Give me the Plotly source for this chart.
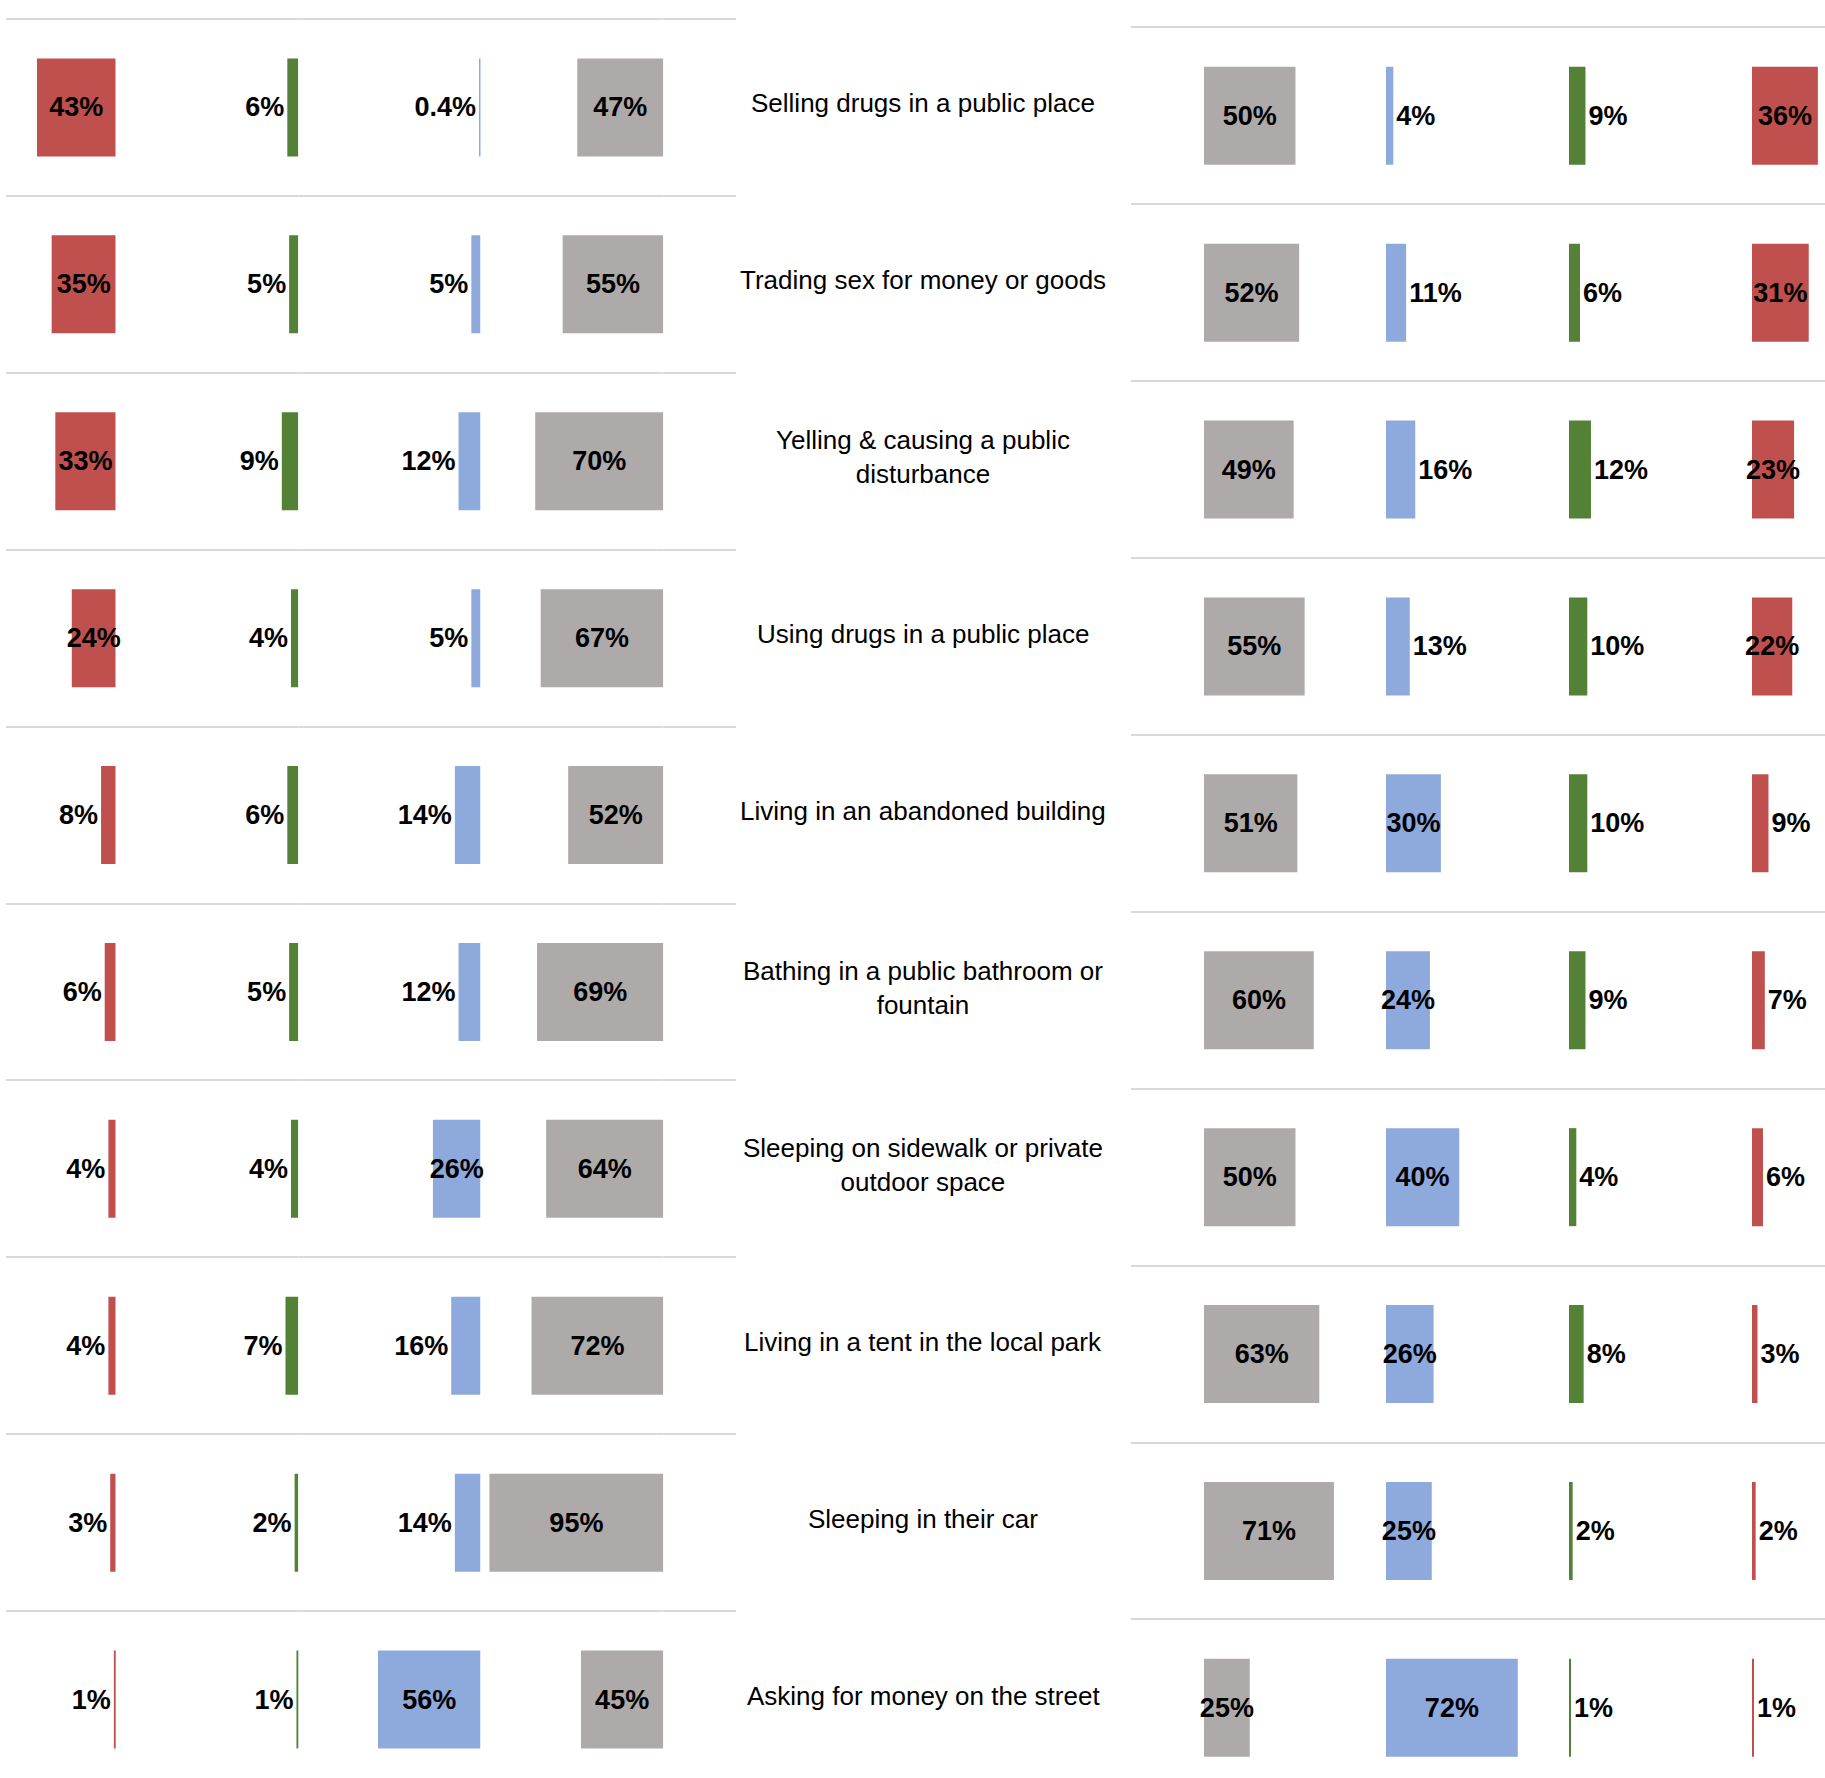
import plotly.graph_objs as go

# Survey answers per behaviour, in percent. Left block and right block.
categories = [
    'Selling drugs in a public place',
    'Trading sex for money or goods',
    'Yelling & causing a public<br>disturbance',
    'Using drugs in a public place',
    'Living in an abandoned building',
    'Bathing in a public bathroom or<br>fountain',
    'Sleeping on sidewalk or private<br>outdoor space',
    'Living in a tent in the local park',
    'Sleeping in their car',
    'Asking for money on the street',
]

left_red = [43, 35, 33, 24, 8, 6, 4, 4, 3, 1]
left_green = [6, 5, 9, 4, 6, 5, 4, 7, 2, 1]
left_blue = [0.4, 5, 12, 5, 14, 12, 26, 16, 14, 56]
left_grey = [47, 55, 70, 67, 52, 69, 64, 72, 95, 45]

right_grey = [50, 52, 49, 55, 51, 60, 50, 63, 71, 25]
right_blue = [4, 11, 16, 13, 30, 24, 40, 26, 25, 72]
right_green = [9, 6, 12, 10, 10, 9, 4, 8, 2, 1]
right_red = [36, 31, 23, 22, 9, 7, 6, 3, 2, 1]

RED = '#C0504D'
GREEN = '#538135'
BLUE = '#8EA9DB'
GREY = '#AEAAAA'

W, H = 1825, 1778
PX_PER_PCT = 1.83
FONT = 'Liberation Sans, Arial, sans-serif'


def frac(p):
    return p / W


def bar_column(values, color, xaxis, yaxis):
    # big values get their label centred in the bar, small ones sit outside
    positions = ['inside' if v >= 20 else 'outside' for v in values]
    return go.Bar(
        x=values,
        y=list(range(len(values))),
        orientation='h',
        xaxis=xaxis,
        yaxis=yaxis,
        width=0.554,
        marker=dict(color=color, line=dict(width=0)),
        texttemplate='%{x}%',
        textposition=positions,
        textangle=0,
        insidetextanchor='middle',
        constraintext='none',
        cliponaxis=False,
        textfont=dict(family=FONT, size=27, color='black', weight='bold'),
        hoverinfo='skip',
        showlegend=False,
    )


# (values, colour, axis, baseline px, far edge px)
left_cols = [
    (left_red, RED, 'x3', 115.7, 6),
    (left_green, GREEN, 'x4', 298.3, 125),
    (left_blue, BLUE, 'x5', 480.5, 300),
    (left_grey, GREY, 'x6', 663.3, 485),
]
right_cols = [
    (right_grey, GREY, 'x7', 1204, 1380),
    (right_blue, BLUE, 'x8', 1386, 1562),
    (right_green, GREEN, 'x9', 1569, 1745),
    (right_red, RED, 'x10', 1752, 1825),
]

data = []
# empty traces so the two frame subplots (which carry the row lines) exist
data.append(go.Scatter(x=[], y=[], xaxis='x', yaxis='y', showlegend=False))
data.append(go.Scatter(x=[], y=[], xaxis='x2', yaxis='y2', showlegend=False))

layout = dict(
    width=W, height=H,
    margin=dict(l=0, r=0, t=0, b=0),
    paper_bgcolor='white', plot_bgcolor='white',
    showlegend=False,
    xaxis=dict(domain=[frac(6), frac(736)], visible=False, range=[0, 1]),
    xaxis2=dict(domain=[frac(1131), 1], visible=False, range=[0, 1]),
)

row_lines = [i - 0.5 for i in range(11)]
grid = dict(tickvals=row_lines, showticklabels=False, ticks='', showgrid=True,
            gridcolor='#D9D9D9', gridwidth=2, zeroline=False, showline=False,
            domain=[0, 1])
layout['yaxis'] = dict(grid, range=[9.4435, -0.6074], anchor='x')
layout['yaxis2'] = dict(grid, range=[9.3965, -0.6543], anchor='x2')

for values, color, ax, base, edge in left_cols:
    data.append(bar_column(values, color, ax, 'y'))
    layout['xaxis' + ax[1:]] = dict(
        domain=[frac(edge), frac(base)], range=[(base - edge) / PX_PER_PCT, 0],
        visible=False, anchor='y')

for values, color, ax, base, edge in right_cols:
    data.append(bar_column(values, color, ax, 'y2'))
    layout['xaxis' + ax[1:]] = dict(
        domain=[frac(base), frac(edge)], range=[0, (edge - base) / PX_PER_PCT],
        visible=False, anchor='y2')

# behaviour names in the middle
layout['annotations'] = [
    dict(x=frac(923), xref='paper', y=i, yref='y', yshift=4, text=name,
         showarrow=False, align='center', xanchor='center', yanchor='middle',
         font=dict(family=FONT, size=26, color='black'))
    for i, name in enumerate(categories)
]

fig = go.Figure(data=data, layout=layout)
fig.write_html('out.html', config=dict(displayModeBar=False),
               post_script="document.body.style.margin = '0';")
